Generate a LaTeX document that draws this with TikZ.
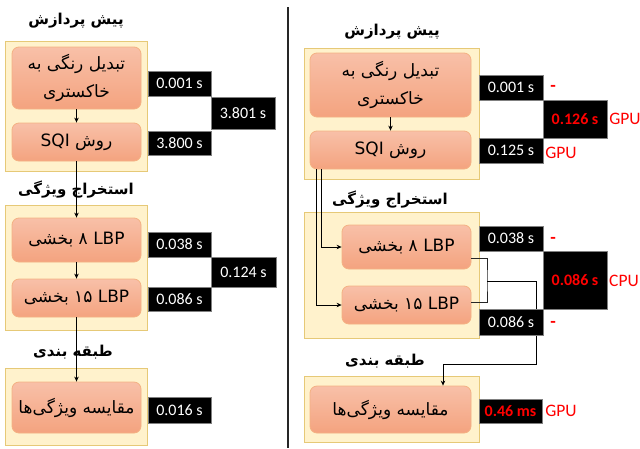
\documentclass[tikz,border=0pt]{standalone}
\usepackage{fontspec}
\setmainfont{Carlito}
\newfontfamily\fa[Script=Arabic]{DejaVu Sans}
\TeXXeTstate=1
\usetikzlibrary{arrows.meta}
\newcommand\prs[1]{{\fa\beginR #1\endR}}
\definecolor{panelfill}{HTML}{FFF2CC}
\definecolor{panelborder}{HTML}{E6C977}
\definecolor{nodetop}{HTML}{F8C0A8}
\definecolor{nodebot}{HTML}{F4A37F}
\definecolor{nodeborder}{HTML}{F4B183}
\tikzset{
  panel/.style={draw=panelborder, fill=panelfill, line width=0.8pt, inner sep=0pt, minimum width=#1},
  stepbox/.style={draw=nodeborder, line width=0.8pt, rounded corners=7pt, top color=nodetop, bottom color=nodebot, align=center, inner sep=0pt, font=\fa\fontsize{17}{28}\selectfont},
  timebox/.style={fill=black, draw=gray, line width=0.6pt, text=white, inner sep=0pt, minimum width=63pt, font=\fontsize{16}{18}\selectfont},
  redtime/.style={timebox, text=red, font=\bfseries\fontsize{16}{18}\selectfont},
  redlbl/.style={text=red, inner sep=0pt, font=\fontsize{17.5}{19}\selectfont},
  reddash/.style={text=red, inner sep=0pt, font=\bfseries\fontsize{18}{18}\selectfont},
  ttl/.style={inner sep=0pt, font=\fa\bfseries\fontsize{15}{18}\selectfont},
  arr/.style={-{Stealth[length=5pt,width=4.5pt]}, line width=1pt, black},
  lnk/.style={line width=1pt, black!85}
}
\begin{document}
\begin{tikzpicture}[x=1pt,y=-1pt]
\useasboundingbox (0,0) rectangle (640,448);
% divider
\draw[line width=1.2pt, black!85] (288,7) -- (288,448);
% ---------- LEFT ----------
\node[ttl] (t1L) at (76,21) {\beginR پیش پردازش\endR};
\node[panel=142pt, minimum height=130pt] (p1L) at (76,106) {};
\node[stepbox, minimum width=129pt, minimum height=62pt] (n1L) at (76.5,78) {\prs{تبدیل رنگی به}\\\prs{خاکستری}};
\node[stepbox, minimum width=129pt, minimum height=38pt] (n2L) at (76.5,142) {\prs{روش \beginL SQI\endL}};
\node[ttl] (t2L) at (76,190) {\beginR استخراج ویژگی\endR};
\node[panel=142pt, minimum height=125pt] (p2L) at (76,267.5) {};
\node[stepbox, minimum width=129pt, minimum height=44pt] (n3L) at (76.5,240) {\prs{\beginL LBP\endL{} ۸ بخشی}};
\node[stepbox, minimum width=129pt, minimum height=38pt] (n4L) at (76.5,298) {\prs{\beginL LBP\endL{} \beginL ۱۵\endL{} بخشی}};
\node[ttl] (t3L) at (73,352) {\beginR طبقه بندی\endR};
\node[panel=142pt, minimum height=77pt] (p3L) at (76,406.5) {};
\node[stepbox, minimum width=129pt, minimum height=51pt] (n5L) at (76.5,407.5) {\prs{مقایسه ویژگی‌ها}};
\draw[arr] (n1L) -- (n2L);
\draw[arr] (n2L) -- (n3L);
\draw[arr] (n3L) -- (n4L);
\draw[arr] (n4L) -- (n5L);
\node[timebox, minimum height=25pt] (a1L) at (179.5,83.5) {0.001 s};
\node[timebox, minimum height=24pt] (a2L) at (179.5,143) {3.800 s};
\node[timebox, minimum width=64pt, minimum height=32pt] (s1L) at (243,113) {3.801 s};
\node[timebox, minimum height=25pt] (a3L) at (179.5,244.5) {0.038 s};
\node[timebox, minimum height=24pt] (a4L) at (179.5,299) {0.086 s};
\node[timebox, minimum width=65pt, minimum height=30pt] (s2L) at (243.5,272) {0.124 s};
\node[timebox, minimum height=26pt] (a5L) at (179.5,410) {0.016 s};
% ---------- RIGHT ----------
\node[ttl] (t1R) at (392,32) {\beginR پیش پردازش\endR};
\node[panel=175pt, minimum height=131pt] (p1R) at (391.5,113.5) {};
\node[stepbox, minimum width=161pt, minimum height=64pt] (n1R) at (390.5,85) {\prs{تبدیل رنگی به}\\\prs{خاکستری}};
\node[stepbox, minimum width=161pt, minimum height=38pt] (n2R) at (390.5,150) {\prs{روش \beginL SQI\endL}};
\node[ttl] (t2R) at (390,200) {\beginR استخراج ویژگی\endR};
\node[panel=175pt, minimum height=126pt] (p2R) at (391.5,275) {};
\node[stepbox, minimum width=129pt, minimum height=44pt] (n3R) at (406.5,247) {\prs{\beginL LBP\endL{} ۸ بخشی}};
\node[stepbox, minimum width=129pt, minimum height=38pt] (n4R) at (406.5,305) {\prs{\beginL LBP\endL{} \beginL ۱۵\endL{} بخشی}};
\node[ttl] (t3R) at (385,361) {\beginR طبقه بندی\endR};
\node[panel=175pt, minimum height=66pt] (p3R) at (391.5,409) {};
\node[stepbox, minimum width=161pt, minimum height=47pt] (n5R) at (390.5,409.5) {\prs{مقایسه ویژگی‌ها}};
\draw[arr] (n1R) -- (n2R);
\draw[arr] ([xshift=12pt]n2R.south west) |- (n3R.west);
\draw[arr] ([xshift=7pt]n2R.south west) |- (n4R.west);
\coordinate (bkt) at (487,281);
\coordinate (drop) at (536,364);
\draw[lnk] ([yshift=-11pt]n3R.east) -| (bkt) |- ([yshift=3pt]n4R.east);
\draw[arr] (bkt) -| (drop) -| ([xshift=52.5pt]n5R.north);
\node[timebox, minimum width=64pt, minimum height=25pt] (a1R) at (511,87.5) {0.001 s};
\node[redtime, minimum width=64pt, minimum height=38pt] (s1R) at (575,119) {0.126 s};
\node[timebox, minimum width=64pt, minimum height=25pt] (a2R) at (511,150.5) {0.125 s};
\node[timebox, minimum width=64pt, minimum height=25pt] (a3R) at (511,238.5) {0.038 s};
\node[redtime, minimum width=64pt, minimum height=58pt] (s2R) at (575,280) {0.086 s};
\node[timebox, minimum width=64pt, minimum height=26pt] (a4R) at (511,322) {0.086 s};
\node[redtime, minimum height=24pt] (a5R) at (510.5,411) {0.46 ms};
\node[reddash] (d1) at (553,88) {-};
\node[redlbl] (g1) at (625,119) {GPU};
\node[redlbl] (g2) at (561,153) {GPU};
\node[reddash] (d2) at (553,240) {-};
\node[redlbl] (c1) at (624,281) {CPU};
\node[reddash] (d3) at (553,324) {-};
\node[redlbl] (g3) at (561,411) {GPU};
\end{tikzpicture}
\end{document}
